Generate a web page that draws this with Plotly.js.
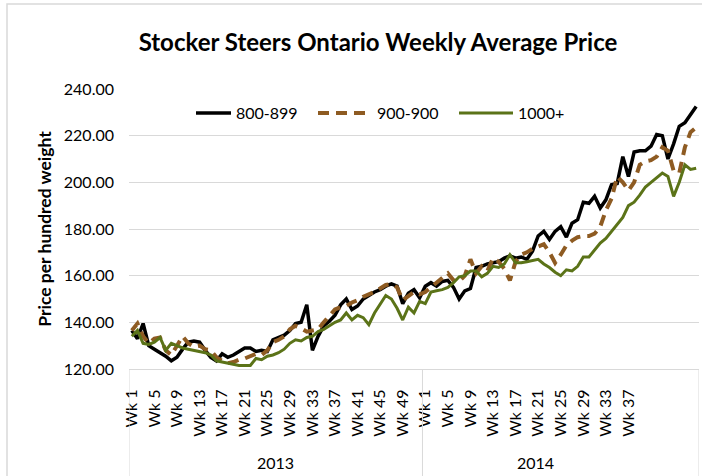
<!DOCTYPE html>
<html><head><meta charset="utf-8">
<script src="https://cdn.plot.ly/plotly-3.0.1.min.js"></script>
<style>html,body{margin:0;padding:0;background:#fff;} #chart{width:702px;height:476px;}</style>
</head><body><div id="chart"></div>
<script>
const seriesNames = ["800-899", "900-900", "1000+"];
const yearLabels = ["2013", "2014"];
const weeksInData2013 = 52;
const weeksInData2014 = 49;
const labelledWeeks2014 = 40;

const price800 = [136.5,133,139.5,130,128.5,127,125.5,123.5,125,128.5,131.5,132,131.5,128,125,123.5,126.5,125,126,127.5,129,129,127.5,128,127.5,132.5,133.5,134.5,136.5,139.5,140,147.5,128,134,138.5,140.5,143,147.5,150,145.5,147,150,151.5,153,154,155.5,156.5,155.5,148,152.5,154,150.5,
155.5,157,155.5,157.5,158,155,150,153.5,154.5,163.5,164,165,165.5,166,167.5,168.5,167.5,168,167,170.5,177,179,175.5,179,181,176.5,182.5,184,191.5,191,194,189,192.5,199,199.5,211,202.5,213,213.5,213.5,215.5,220.5,220,210,216.5,224,225.5,229,232.5];

const price900 = [136.5,139.5,134,131,133,133.5,128,126,130,134,131,129.5,130,128.5,128,125,123.5,122.5,123,124,124.5,125.5,126.5,126,128,131.5,132.5,134,137,138.5,137.5,136,136.5,137,140,142.5,145.5,146.5,147,148.5,149.5,151,152,153,154.5,156,156.5,155,149.5,151.5,153,152,
153,155,157,159,161,158,157.5,160,167,161,164,162,167.5,166,163,158,166,169,170,171.5,172.5,173.5,170,165.5,169,173,175,176.5,177,177,178,181,188,193,202.5,200,196.5,200,207.5,209,209.5,211,215,213.5,205,204,215,221.5,223.5];

const price1000 = [134,136.5,131,130.5,131.5,133.5,128,131,130,129,128.5,128,127.5,127,126,123.5,123,122.5,122,121.5,121.5,121.5,124.5,124,125.5,126,127,128.5,131,132.5,132,133.5,134,136,137,138.5,140,141,144,141,143,142,139,144,148,151.5,150,146,141,146.5,144,149,
148,153,153.5,154,155,157,159.5,160,162,162,159.5,161,164,163.5,165,169,165.5,165.5,166,166.5,167,165,163.5,161.5,160,162.5,162,164,168,168,171,174,176,179,182,185,190,191.5,194.5,198,200,202,204,202.5,194,200,207.5,205.5,206];

const tickLabels2013 = ["Wk 1","Wk 5","Wk 9","Wk 13","Wk 17","Wk 21","Wk 25","Wk 29","Wk 33","Wk 37","Wk 41","Wk 45","Wk 49"];
const tickLabels2014 = ["Wk 1","Wk 5","Wk 9","Wk 13","Wk 17","Wk 21","Wk 25","Wk 29","Wk 33","Wk 37"];
const yTicks = [120, 140, 160, 180, 200, 220, 240];

// category positions (one per week in the data)
const xIdx = [];
for (let i = 0; i < weeksInData2013 + weeksInData2014; i++) xIdx.push(i);
const weekNum = s => parseInt(s.replace("Wk ", ""), 10);
const tickVals = tickLabels2013.map(s => weekNum(s) - 1)
  .concat(tickLabels2014.map(s => weeksInData2013 + weekNum(s) - 1));
const tickText = tickLabels2013.concat(tickLabels2014);

const W = 702, H = 476, ML = 129, MR = 3, MT = 89, MB = 107;
const px = x => (x - ML) / (W - ML - MR);
const py = y => (H - MB - y) / (H - MT - MB);

const colors = ["#000000", "#8E5B22", "#5B7318"];
const traces = [
  {x: xIdx, y: price800, name: seriesNames[0], type: "scatter", mode: "lines",
   line: {color: colors[0], width: 3.5}, hoverinfo: "skip"},
  {x: xIdx, y: price900, name: seriesNames[1], type: "scatter", mode: "lines",
   line: {color: colors[1], width: 4, dash: "11px,7px"}, hoverinfo: "skip"},
  {x: xIdx, y: price1000, name: seriesNames[2], type: "scatter", mode: "lines",
   line: {color: colors[2], width: 3}, hoverinfo: "skip"}
];

const grey = "#d9d9d9";
const layout = {
  width: W, height: H,
  margin: {l: ML, r: MR, t: MT, b: MB},
  paper_bgcolor: "#ffffff", plot_bgcolor: "#ffffff",
  font: {family: "Lato, 'Open Sans', sans-serif", color: "#000000", size: 16},
  title: {text: "Stocker Steers Ontario Weekly Average Price",
          font: {size: 24, weight: 700, family: "Lato, sans-serif", color: "#000"},
          x: 378 / W, xref: "container", xanchor: "center",
          y: 1 - 43 / H, yref: "container", yanchor: "middle"},
  showlegend: true,
  legend: {orientation: "h", x: px(196), xanchor: "left", y: py(113), yanchor: "middle",
           font: {size: 16, color: "#000"}, bgcolor: "rgba(0,0,0,0)",
           entrywidth: 96, entrywidthmode: "pixels", traceorder: "normal"},
  xaxis: {range: [-0.5, weeksInData2013 + weeksInData2014 - 0.5], tickmode: "array",
          tickvals: tickVals, ticktext: tickText, tickangle: -90,
          tickfont: {size: 16, color: "#000"}, ticks: "", ticklabelstandoff: 13,
          showgrid: false, zeroline: false, showline: true, linecolor: grey, linewidth: 1,
          fixedrange: true},
  yaxis: {range: [120, 240], tickmode: "array", tickvals: yTicks, tickformat: ".2f",
          tickfont: {size: 16, color: "#000"}, ticks: "", ticklabelstandoff: 14,
          showgrid: true, gridcolor: grey, gridwidth: 1, zeroline: false, showline: false,
          title: {text: "Price per hundred weight", font: {size: 17.5, weight: 700}, standoff: 7},
          fixedrange: true},
  annotations: [
    {text: yearLabels[0], x: (weeksInData2013 - 1) / 2, xref: "x", y: py(462), yref: "paper",
     showarrow: false, font: {size: 16}, xanchor: "center", yanchor: "middle"},
    {text: yearLabels[1], x: weeksInData2013 + (labelledWeeks2014 - 1) / 2, xref: "x", y: py(462), yref: "paper",
     showarrow: false, font: {size: 16}, xanchor: "center", yanchor: "middle"}
  ],
  shapes: [
    {type: "line", xref: "x", yref: "paper", x0: -0.5, x1: -0.5, y0: 0, y1: py(480), line: {color: grey, width: 1}},
    {type: "line", xref: "x", yref: "paper", x0: weeksInData2013 - 0.5, x1: weeksInData2013 - 0.5, y0: 0, y1: py(480), line: {color: grey, width: 1}},
    {type: "line", xref: "x", yref: "paper", x0: weeksInData2013 + weeksInData2014 - 0.5, x1: weeksInData2013 + weeksInData2014 - 0.5, y0: 0, y1: py(480), line: {color: grey, width: 1}},
    {type: "rect", xref: "paper", yref: "paper", x0: px(7), x1: px(730), y0: py(4), y1: py(500), line: {color: grey, width: 1.5}, fillcolor: "rgba(0,0,0,0)", layer: "below"}
  ]
};

Plotly.newPlot("chart", traces, layout, {staticPlot: true, displayModeBar: false}).then(gd => {
  // lengthen the legend line samples to match the original legend keys
  gd.querySelectorAll(".legendlines path").forEach(p => p.setAttribute("d", "M-19,0h54"));
});
</script>
</body></html>
